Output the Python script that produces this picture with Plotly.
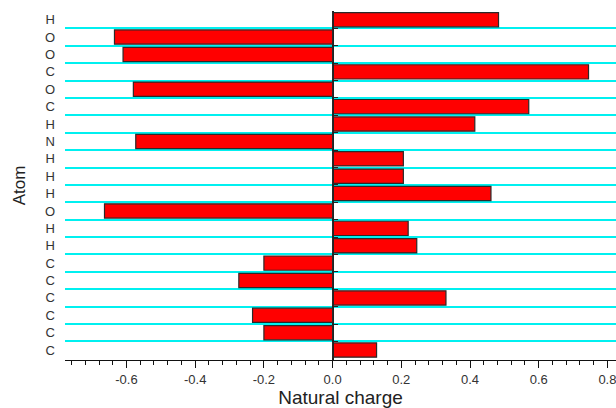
import plotly.graph_objects as go

# Atoms listed bottom to top
atoms = ["C", "C", "C", "C", "C", "C", "H", "H", "O", "H",
         "H", "H", "N", "H", "C", "O", "C", "O", "O", "H"]
charges = [0.128, -0.200, -0.233, 0.330, -0.273, -0.200, 0.245, 0.220, -0.664, 0.461,
           0.206, 0.206, -0.573, 0.414, 0.571, -0.580, 0.745, -0.610, -0.635, 0.483]

x_ticks = [-0.6, -0.4, -0.2, 0.0, 0.2, 0.4, 0.6, 0.8]
x_range = [-0.779, 0.825]
y_range = [-0.57, 19.5]

n = len(atoms)
pos = list(range(n))
bounds = [i + 0.5 for i in range(n - 1)]

fig = go.Figure()
fig.add_trace(go.Bar(
    x=charges, y=pos, orientation="h", width=0.82,
    marker=dict(color="#ff0000", line=dict(color="#2a2a2a", width=1.2)),
    showlegend=False,
))

font_family = "Liberation Sans, Arial, sans-serif"

fig.update_layout(
    width=616, height=408,
    margin=dict(l=65, r=0, t=11, b=48),
    paper_bgcolor="white", plot_bgcolor="white",
    font=dict(family=font_family, color="#333333"),
    xaxis=dict(
        range=x_range,
        tickvals=x_ticks,
        ticktext=[f"{v:.1f}" for v in x_ticks],
        ticklabeloverflow="allow",
        showgrid=False,
        zeroline=True, zerolinecolor="#222222", zerolinewidth=1.2,
        showline=True, linecolor="#111111", linewidth=1.2,
        ticks="outside", ticklen=7, tickcolor="#111111", tickwidth=1.2,
        minor=dict(dtick=0.04, tick0=0, ticks="outside", ticklen=4,
                   tickcolor="#111111", tickwidth=1, showgrid=False),
        tickfont=dict(size=13, color="#333333"),
        title=dict(text="Natural charge", font=dict(size=19, color="#222222"), standoff=10),
        automargin=False,
    ),
    yaxis=dict(
        range=y_range,
        tickvals=pos, ticktext=atoms,
        showgrid=False, zeroline=False, showline=False,
        ticks="", ticklabelstandoff=9,
        minor=dict(tickvals=bounds, showgrid=True, gridcolor="#00f0f0", gridwidth=1.6, ticks=""),
        tickfont=dict(size=13, color="#333333"),
        title=dict(text="Atom", font=dict(size=17, color="#222222"), standoff=14),
        automargin=False,
    ),
    yaxis2=dict(
        range=y_range, overlaying="y", anchor="free",
        position=(0 - x_range[0]) / (x_range[1] - x_range[0]),
        side="right",
        tickvals=bounds, showticklabels=False,
        ticks="outside", ticklen=4, tickcolor="#222222", tickwidth=1.2,
        showline=True, linecolor="#222222", linewidth=1.2,
        showgrid=False, zeroline=False,
    ),
)
fig.add_trace(go.Scatter(x=[None], y=[None], yaxis="y2", showlegend=False, hoverinfo="skip"))

fig.write_html("out.html")
